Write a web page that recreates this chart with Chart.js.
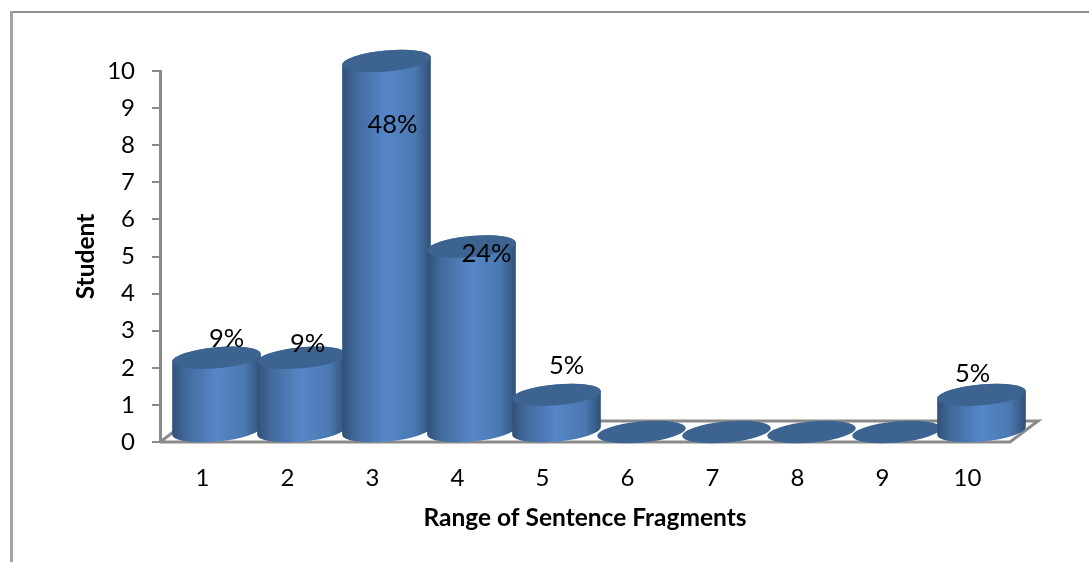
<!DOCTYPE html>
<html>
<head>
<meta charset="utf-8">
<title>Range of Sentence Fragments</title>
<script src="https://cdn.jsdelivr.net/npm/chart.js@4/dist/chart.umd.min.js"></script>
<style>
    html, body { margin: 0; padding: 0; background: #fff; overflow: hidden; }
    canvas { display: block; }
</style>
</head>
<body>
<canvas id="myChart" width="1089" height="562"></canvas>
<script>
let categories = ['1', '2', '3', '4', '5', '6', '7', '8', '9', '10']
let students = [2, 2, 10, 5, 1, 0, 0, 0, 0, 1]
let percentLabels = ['9%', '9%', '48%', '24%', '5%', '', '', '', '', '5%']
let yTicks = [0, 1, 2, 3, 4, 5, 6, 7, 8, 9, 10]

let fontName = 'Lato, "Open Sans", sans-serif'
let axisGrey = '#8a8a8a'

// fake 3D: columns sit this far in from the front edge of the floor
let depthX = 14
let depthY = -10
let radiusY = 10.5
let tilt = -0.09

// where each percent label sits relative to the top of its column
let labelShift = [[10, -19], [6, -14], [6, 64], [15, 7], [10, -29], [0, 0], [0, 0], [0, 0], [0, 0], [-9, -21]]

function bodyGradient(ctx, left, right) {
    let g = ctx.createLinearGradient(left, 0, right, 0)
    g.addColorStop(0, '#2f5078')
    g.addColorStop(0.15, '#42699b')
    g.addColorStop(0.5, '#5587c8')
    g.addColorStop(0.82, '#4a78b0')
    g.addColorStop(1, '#2f5078')
    return g
}

function drawCylinder(ctx, bar) {
    let cx = bar.x + depthX
    let rx = bar.width / 2
    let top = bar.y + depthY
    let bottom = bar.base + depthY

    if (bottom - top > 0.5) {
        ctx.beginPath()
        ctx.ellipse(cx, bottom, rx, radiusY, tilt, 0, Math.PI)
        ctx.ellipse(cx, top, rx, radiusY, tilt, Math.PI, 0)
        ctx.closePath()
        ctx.fillStyle = bodyGradient(ctx, cx - rx, cx + rx)
        ctx.fill()
    }

    ctx.beginPath()
    ctx.ellipse(cx, top, rx, radiusY, tilt, 0, Math.PI * 2)
    ctx.fillStyle = '#3d6491'
    ctx.fill()
}

let cylinderPlugin = {
    id: 'cylinders',
    beforeDraw(chart) {
        // border of the surrounding frame
        let ctx = chart.ctx
        ctx.save()
        ctx.fillStyle = '#8f8f8f'
        ctx.fillRect(11, 11, 1078, 2)
        ctx.fillStyle = '#a3a3a3'
        ctx.fillRect(10, 11, 3, 551)
        ctx.restore()
    },
    beforeDatasetsDraw(chart) {
        // floor outline behind the columns
        let ctx = chart.ctx
        let area = chart.chartArea
        ctx.save()
        ctx.strokeStyle = axisGrey
        ctx.lineWidth = 3
        ctx.beginPath()
        ctx.moveTo(area.left, area.bottom)
        ctx.lineTo(area.left + 28, area.bottom - 21)
        ctx.lineTo(area.right + 28, area.bottom - 21)
        ctx.lineTo(area.right, area.bottom)
        ctx.lineTo(area.left, area.bottom)
        ctx.stroke()
        ctx.restore()
    },
    beforeDatasetDraw(chart, args) {
        let ctx = chart.ctx
        ctx.save()
        args.meta.data.forEach(function(bar) {
            drawCylinder(ctx, bar)
        })
        ctx.restore()
        return false
    },
    afterDatasetsDraw(chart) {
        let ctx = chart.ctx
        let bars = chart.getDatasetMeta(0).data
        ctx.save()
        ctx.font = '25.5px ' + fontName
        ctx.fillStyle = '#000'
        ctx.textAlign = 'center'
        ctx.textBaseline = 'middle'
        bars.forEach(function(bar, i) {
            if (percentLabels[i] !== '') {
                ctx.fillText(percentLabels[i], bar.x + depthX + labelShift[i][0], bar.y + depthY + labelShift[i][1])
            }
        })
        ctx.restore()
    }
}

let shapeChart = new Chart(document.getElementById('myChart'), {
    type: 'bar',
    data: {
        labels: categories,
        datasets: [{
            label: 'Student',
            data: students,
            backgroundColor: '#4f81bd',
            barThickness: 89
        }]
    },
    options: {
        responsive: false,
        animation: false,
        layout: { padding: { top: 71, right: 79, left: 0, bottom: 0 } },
        plugins: {
            legend: { display: false },
            tooltip: { enabled: false }
        },
        scales: {
            x: {
                grid: { display: false },
                border: { display: false },
                ticks: { color: '#000', font: { family: fontName, size: 24 }, padding: 14, maxRotation: 0 },
                title: {
                    display: true,
                    text: 'Range of Sentence Fragments',
                    color: '#000',
                    font: { family: fontName, size: 24.5, weight: 'bold' },
                    padding: { top: 14, bottom: 29 }
                },
                afterFit(scale) { scale.height = 120 }
            },
            y: {
                min: 0,
                max: 10,
                afterBuildTicks(scale) {
                    scale.ticks = yTicks.map(function(v) { return { value: v } })
                },
                grid: { drawOnChartArea: false, color: axisGrey, tickLength: 8, lineWidth: 2 },
                border: { color: axisGrey, width: 3 },
                ticks: { color: '#000', font: { family: fontName, size: 24 }, padding: 17 },
                title: {
                    display: true,
                    text: 'Student',
                    color: '#000',
                    font: { family: fontName, size: 24.5, weight: 'bold' },
                    padding: { top: 71, bottom: 0 }
                },
                afterFit(scale) { scale.width = 160 }
            }
        }
    },
    plugins: [cylinderPlugin]
})
</script>
</body>
</html>
